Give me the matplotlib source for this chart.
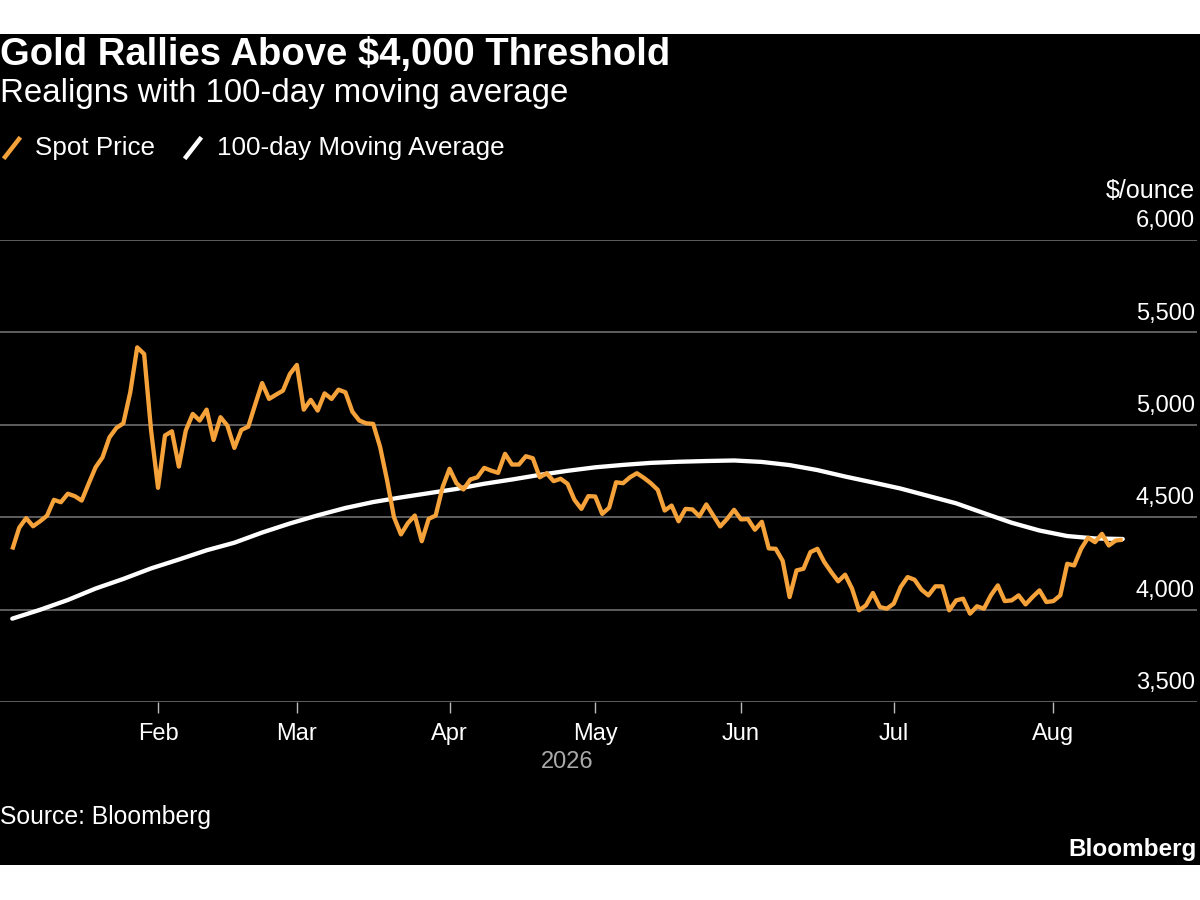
import matplotlib
matplotlib.use('Agg')
import matplotlib.pyplot as plt
import matplotlib.transforms as mtransforms
from matplotlib.lines import Line2D
from matplotlib.patches import Rectangle
import numpy as np
import pandas as pd

plt.rcParams['font.family'] = ['Liberation Sans', 'DejaVu Sans']

# trading days (Good Friday closed)
dates = pd.bdate_range('2026-01-02', '2026-08-17').drop(pd.Timestamp('2026-04-03'))

spot = [4325, 4443, 4495, 4451, 4478, 4508, 4594, 4581, 4627, 4614, 4590,
        4681, 4770, 4824, 4932, 4983, 5008, 5176, 5419, 5383, 4969,
        4659, 4942, 4965, 4774, 4969, 5059, 5023, 5082, 4918, 5041,
        4995, 4875, 4972, 4990, 5110, 5226, 5140, 5163, 5185, 5275,
        5324, 5082, 5135, 5077, 5170, 5140, 5190, 5176, 5071, 5023,
        5008, 5005, 4880, 4700, 4500, 4407, 4468, 4509, 4370, 4491,
        4509, 4662, 4762, 4684, 4650, 4704, 4716, 4767, 4752, 4740,
        4843, 4785, 4785, 4830, 4819, 4716, 4738, 4695, 4708, 4681,
        4594, 4545, 4614, 4612, 4518, 4551, 4689, 4684, 4716, 4738,
        4713, 4684, 4648, 4536, 4563, 4478, 4545, 4542, 4505, 4569,
        4509, 4450, 4491, 4540, 4488, 4490, 4432, 4475, 4331, 4329,
        4264, 4068, 4212, 4221, 4311, 4329, 4257, 4203, 4153, 4189,
        4113, 3996, 4023, 4090, 4014, 4005, 4032, 4122, 4176, 4162,
        4108, 4077, 4126, 4126, 3996, 4050, 4059, 3978, 4018, 4005,
        4077, 4131, 4046, 4050, 4077, 4028, 4068, 4104, 4041, 4046,
        4077, 4248, 4239, 4329, 4389, 4365, 4410, 4347, 4374, 4378]

# 100-day moving average, read every 4th trading day
ma_day = [0, 4, 8, 12, 16, 20, 24, 28, 32, 36, 40,
          44, 48, 52, 56, 60, 64, 68, 72, 76, 80,
          84, 88, 92, 96, 100, 104, 108, 112, 116, 120,
          124, 128, 132, 136, 140, 144, 148, 152, 156, 160]
ma_vals = [3951, 3999, 4052, 4114, 4166, 4223, 4271, 4321, 4362, 4417, 4466,
           4510, 4550, 4582, 4607, 4630, 4653, 4681, 4704, 4729, 4751,
           4770, 4783, 4794, 4800, 4804, 4807, 4799, 4782, 4755, 4720,
           4688, 4655, 4615, 4575, 4522, 4470, 4428, 4398, 4385, 4382]

y_ticks = [3500, 4000, 4500, 5000, 5500, 6000]

ORANGE = '#F5A23A'
GRID = '#6e6e6e'

fig = plt.figure(figsize=(12, 9), dpi=100, facecolor='white')
fig.patches.append(Rectangle((0, 35 / 900), 1, 831 / 900, transform=fig.transFigure,
                             facecolor='black', edgecolor='none', zorder=-5))

ax = fig.add_axes([0, 198 / 900, 1197 / 1200, 462 / 900])
ax.set_zorder(2)
ax.set_facecolor('none')
for s in ax.spines.values():
    s.set_visible(False)

x = np.arange(len(spot))
ax.set_xlim(-1.77, 170.7)
ax.set_ylim(3500, 6000)

for v in y_ticks:
    ax.axhline(v, color=GRID, lw=1.2, zorder=1)

ax.plot(ma_day, ma_vals, color='white', lw=3.1, solid_capstyle='round',
        solid_joinstyle='round', zorder=3)
ax.plot(x, spot, color=ORANGE, lw=3.1, solid_joinstyle='round', solid_capstyle='butt', zorder=4)

# y labels sit above the gridlines on the right
ytrans = mtransforms.blended_transform_factory(ax.transAxes, ax.transData) + \
    mtransforms.ScaledTranslation(-2 / 100, 12.7 / 100, fig.dpi_scale_trans)
for v in y_ticks:
    ax.text(1.0, v, f'{v:,}', transform=ytrans, ha='right', va='baseline',
            color='white', fontsize=17)
ax.set_yticks([])

# month ticks at first trading day of each month
month_starts = [i for i in range(1, len(dates)) if dates[i].month != dates[i - 1].month]
ax.set_xticks(month_starts)
ax.set_xticklabels([dates[i].strftime('%b') for i in month_starts])
ax.tick_params(axis='x', colors='white', length=8, width=1, pad=7, labelsize=17)
ax.tick_params(axis='x', color='#bbbbbb')

ax.text((x[0] + x[-1]) / 2, 0, str(dates[0].year), transform=mtransforms.blended_transform_factory(ax.transData, ax.transAxes) +
        mtransforms.ScaledTranslation(0, -66 / 100, fig.dpi_scale_trans),
        ha='center', va='baseline', color='#aaaaaa', fontsize=17)

# header
fig.text(0.0, 1 - 65 / 900, 'Gold Rallies Above $4,000 Threshold', color='white',
         fontsize=27.5, fontweight='bold', ha='left', va='baseline')
fig.text(0.0, 1 - 102 / 900, 'Realigns with 100-day moving average', color='white',
         fontsize=23.8, ha='left', va='baseline')

# legend
fig.lines.append(Line2D([5 / 1200, 19 / 1200], [1 - 157 / 900, 1 - 139 / 900],
                        transform=fig.transFigure, color=ORANGE, lw=3.2))
fig.text(35 / 1200, 1 - 155 / 900, 'Spot Price', color='white', fontsize=18.7,
         ha='left', va='baseline')
fig.lines.append(Line2D([186 / 1200, 200 / 1200], [1 - 157 / 900, 1 - 139 / 900],
                        transform=fig.transFigure, color='white', lw=3.2))
fig.text(217 / 1200, 1 - 155 / 900, '100-day Moving Average', color='white', fontsize=18.7,
         ha='left', va='baseline')

fig.text(1195 / 1200, 1 - 198 / 900, '$/ounce', color='white', fontsize=18,
         ha='right', va='baseline')

# footer
fig.text(0.0, 1 - 824 / 900, 'Source: Bloomberg', color='white', fontsize=17.8,
         ha='left', va='baseline')
fig.text(1197 / 1200, 1 - 856 / 900, 'Bloomberg', color='white', fontsize=17.5,
         fontweight='bold', ha='right', va='baseline')

fig.savefig('out.png', dpi=100, facecolor='white')
